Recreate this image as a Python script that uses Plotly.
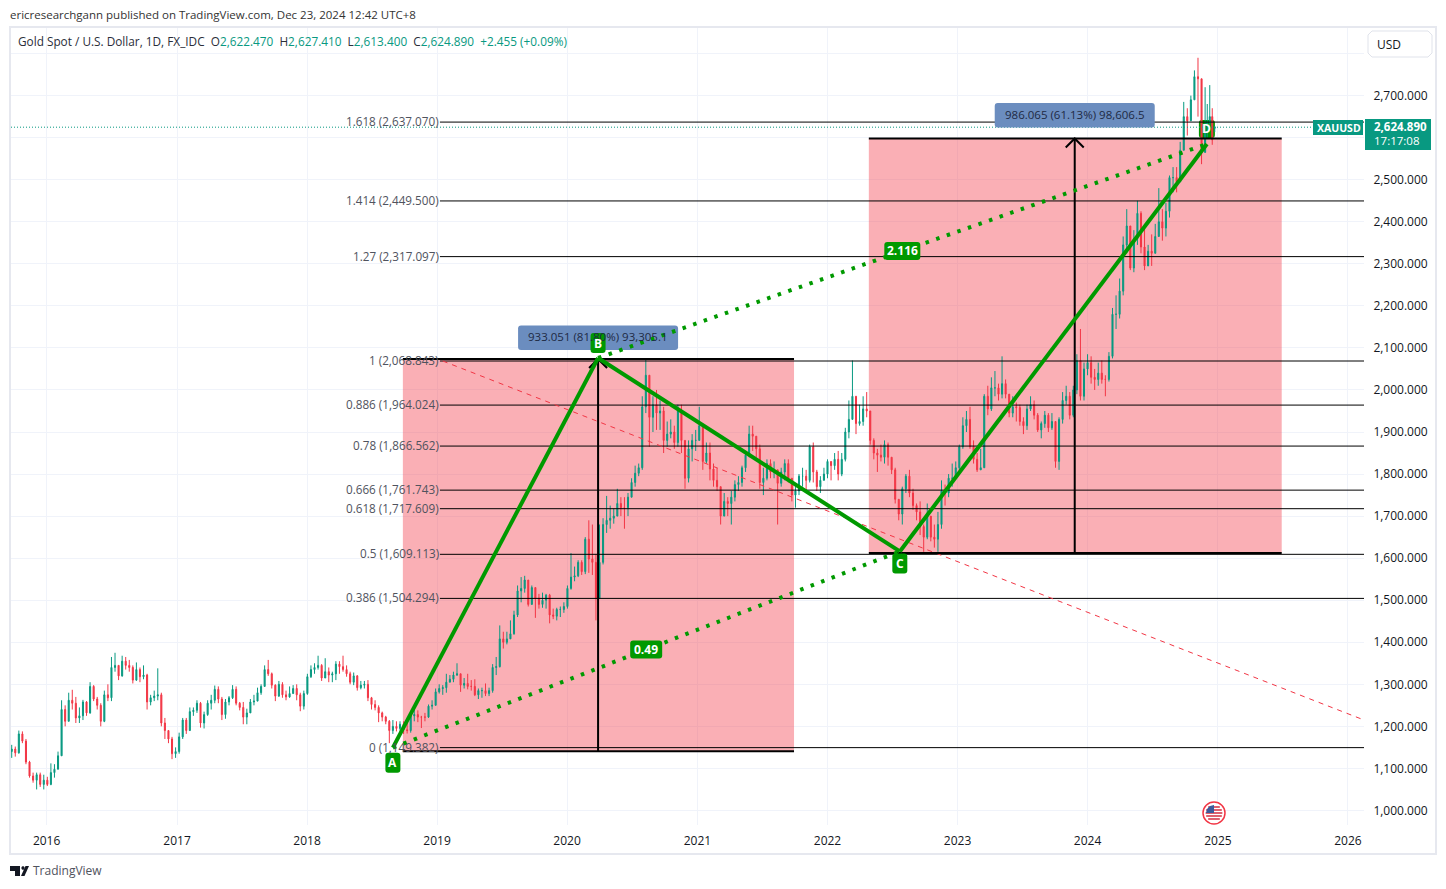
import math
import pandas as pd
import plotly.graph_objects as go

# ---------- data ----------
close_2015 = [1146,1137,1182,1165,1115,1082,1072,1085,1062,1072]
high_2015 = [1156,1152,1190,1188,1170,1118,1090,1090,1090,1085]
low_2015 = [1125,1128,1135,1160,1110,1078,1066,1050,1056,1050]
close_2016 = [1062,1090,1098,1130,1240,1212,1262,1255,1220,1225,1258,1232,1295,1265,1250,1212,1275,1268,1340,1345,1320,1355,1345,1340,1310,1335,1318,1322,1258,1268,1272,1275,1208,1190,1170,1135,1140]
high_2016 = [1080,1112,1110,1140,1262,1250,1280,1287,1270,1245,1263,1260,1305,1298,1270,1255,1285,1300,1365,1375,1345,1368,1365,1358,1345,1352,1340,1345,1325,1275,1285,1338,1280,1220,1190,1175,1150]
low_2016 = [1058,1060,1078,1110,1140,1200,1220,1240,1208,1208,1215,1225,1230,1260,1240,1200,1210,1260,1260,1330,1310,1318,1335,1330,1302,1308,1305,1312,1240,1250,1260,1262,1200,1170,1160,1122,1125]
close_2017 = [1175,1215,1190,1235,1238,1255,1208,1228,1255,1262,1288,1265,1228,1258,1268,1288,1255,1245,1222,1232,1258,1260,1280,1295,1335,1325,1298,1272,1300,1275,1270,1278,1290,1275,1248,1278]
high_2017 = [1185,1220,1220,1245,1245,1262,1258,1235,1262,1275,1297,1295,1270,1265,1272,1298,1295,1258,1258,1242,1265,1275,1292,1300,1345,1358,1328,1300,1308,1305,1285,1295,1298,1300,1280,1285]
low_2017 = [1135,1170,1182,1190,1225,1232,1197,1195,1225,1240,1255,1255,1215,1218,1250,1265,1250,1238,1205,1205,1232,1250,1265,1275,1295,1320,1290,1260,1270,1268,1262,1268,1278,1262,1236,1240]
close_2018 = [1318,1335,1340,1345,1315,1330,1322,1325,1348,1342,1335,1325,1305,1320,1292,1298,1300,1268,1252,1245,1232,1222,1212,1190,1200,1195,1205,1192,1190,1225,1228,1222,1222,1222,1248,1250,1282]
high_2018 = [1325,1345,1350,1368,1348,1362,1340,1330,1355,1355,1368,1345,1330,1328,1322,1308,1308,1310,1270,1262,1250,1235,1225,1215,1215,1212,1212,1212,1210,1235,1240,1238,1225,1232,1252,1262,1290]
low_2018 = [1275,1315,1325,1335,1308,1325,1305,1305,1310,1325,1330,1318,1300,1298,1285,1288,1290,1260,1240,1238,1210,1212,1205,1160,1182,1188,1190,1182,1183,1185,1212,1210,1196,1212,1220,1240,1250]
close_2019 = [1290,1292,1305,1312,1322,1325,1298,1302,1295,1295,1275,1285,1285,1278,1285,1340,1342,1408,1400,1408,1420,1465,1522,1528,1548,1490,1530,1505,1490,1500,1512,1465,1462,1478,1478,1485]
high_2019 = [1300,1298,1325,1322,1330,1350,1325,1315,1325,1310,1312,1290,1292,1302,1292,1348,1365,1440,1425,1425,1452,1475,1535,1555,1558,1525,1535,1520,1515,1518,1515,1515,1480,1482,1485,1495]
low_2019 = [1278,1275,1280,1305,1305,1320,1282,1290,1288,1285,1272,1265,1268,1272,1272,1280,1322,1340,1385,1395,1412,1418,1460,1495,1518,1485,1495,1458,1480,1482,1480,1445,1455,1452,1460,1470]
close_2020 = [1528,1555,1558,1590,1568,1645,1598,1590,1505,1590,1680,1690,1695,1700,1730,1720,1720,1745,1780,1802,1815,1960,2035,1935,1965,1945,1950,1880,1895,1900,1875,1950,1880,1790,1860,1880,1880]
high_2020 = [1535,1612,1580,1595,1595,1650,1690,1680,1610,1680,1695,1748,1725,1718,1765,1745,1745,1755,1790,1820,1825,1985,2075,2015,1985,2000,1975,1960,1925,1930,1915,1965,1965,1880,1880,1895,1905]
low_2020 = [1480,1525,1545,1555,1560,1562,1565,1560,1452,1570,1585,1660,1670,1682,1710,1700,1670,1700,1750,1770,1795,1810,1945,1865,1900,1905,1905,1850,1865,1885,1860,1865,1850,1765,1780,1830,1855]
close_2021 = [1915,1830,1850,1812,1785,1770,1700,1735,1730,1745,1775,1780,1815,1845,1895,1890,1860,1780,1790,1825,1805,1810,1778,1805,1825,1790,1750,1760,1795,1795,1785,1865,1805,1770,1785,1800,1830]
high_2021 = [1960,1920,1875,1875,1825,1815,1770,1755,1745,1760,1785,1795,1820,1855,1915,1915,1885,1870,1815,1835,1835,1830,1810,1815,1835,1835,1790,1775,1800,1815,1810,1870,1875,1810,1795,1815,1835]
low_2021 = [1880,1810,1825,1785,1770,1760,1680,1720,1700,1680,1735,1760,1770,1805,1840,1855,1840,1765,1750,1785,1790,1790,1680,1770,1785,1780,1735,1720,1750,1770,1760,1780,1780,1760,1755,1785,1790]
close_2022 = [1820,1835,1800,1835,1900,1930,1985,1920,1925,1955,1950,1880,1850,1845,1840,1870,1840,1810,1740,1705,1765,1795,1755,1725,1710,1675,1650,1700,1650,1645,1680,1760,1755,1790,1790,1815]
high_2022 = [1830,1850,1855,1850,1910,1975,2070,1965,1965,1985,1995,1935,1885,1860,1870,1880,1875,1840,1815,1735,1770,1800,1810,1765,1730,1735,1680,1730,1680,1680,1710,1785,1775,1800,1825,1830]
low_2022 = [1785,1810,1785,1795,1830,1885,1960,1895,1915,1915,1935,1870,1835,1805,1830,1825,1820,1800,1730,1690,1680,1755,1745,1715,1690,1655,1615,1645,1640,1625,1615,1670,1725,1745,1770,1790]
close_2023 = [1865,1915,1930,1865,1835,1810,1815,1985,1955,2005,2005,1990,2015,1990,1945,1960,1958,1925,1915,1955,1965,1940,1905,1920,1940,1910,1925,1830,1930,1975,1985,1940,2000,2070,1985,2050]
high_2023 = [1870,1935,1950,1960,1880,1850,1860,1990,2010,2030,2045,2015,2080,2025,1985,1985,1970,1965,1935,1965,1985,1975,1945,1925,1950,1945,1945,1925,1935,1995,2010,1995,2010,2085,2145,2065]
low_2023 = [1810,1860,1900,1860,1825,1805,1810,1835,1940,1950,1985,1975,1980,1980,1935,1935,1925,1915,1895,1905,1950,1930,1900,1885,1910,1900,1905,1815,1810,1920,1965,1930,1935,1990,1975,1975]
close_2024 = [2065,2030,2025,2040,2025,2025,2080,2180,2180,2235,2345,2390,2290,2360,2420,2340,2295,2330,2325,2365,2400,2385,2425,2505,2505,2495,2570,2650,2640,2690,2745,2740,2565,2630,2635,2650,2595,2624.89]
high_2024 = [2085,2080,2050,2065,2070,2035,2090,2195,2225,2265,2365,2430,2385,2380,2450,2425,2390,2345,2370,2395,2480,2430,2445,2510,2530,2530,2590,2685,2670,2700,2760,2790,2700,2720,2680,2725,2670,2627.41]
low_2024 = [2035,2015,2000,2010,2015,1985,2020,2075,2145,2170,2225,2325,2285,2280,2345,2325,2285,2305,2295,2350,2390,2355,2365,2410,2470,2470,2495,2570,2605,2640,2690,2650,2537,2610,2600,2620,2583,2613.40]
last_open = 2622.47
first_open = 1140
final_dates = ["2024-11-26", "2024-12-02", "2024-12-09", "2024-12-16", "2024-12-23"]

fib_ratios = ["0", "0.386", "0.5", "0.618", "0.666", "0.78", "0.886", "1", "1.27", "1.414", "1.618"]
fib_prices = [1149.382, 1504.294, 1609.113, 1717.609, 1761.743, 1866.562, 1964.024, 2068.843, 2317.097, 2449.500, 2637.070]

pivot_names = ["A", "B", "C", "D"]
pivot_dates = ["2018-08-30", "2020-03-28", "2022-07-23", "2024-12-01"]
pivot_prices = [1149.4, 2076, 1616, 2585]

range_dates = [["2018-09-27", "2021-09-29"], ["2022-04-27", "2025-06-29"]]
range_low = [1140.6, 1612]
range_high = [2073.65, 2598.07]
range_mid = ["2020-03-28", "2023-11-26"]
range_text = ["933.051 (81.80%) 93,305.1", "986.065 (61.13%) 98,606.5"]

ratio_text = ["0.49", "2.116"]
year_labels = list(range(2016, 2027))
price_ticks = list(range(1000, 2900, 100))
header_values = [("O", "2,622.470"), ("H", "2,627.410"), ("L", "2,613.400"), ("C", "2,624.890")]
header_change = "+2.455 (+0.09%)"
fib_start = "2019-01-09"
trend_start = ("2019-01-17", 2068.843)
trend_end = ("2026-02-15", 1215.1)

# ---------- assemble ----------
close = close_2015 + close_2016 + close_2017 + close_2018 + close_2019 + close_2020 + close_2021 + close_2022 + close_2023 + close_2024
high = high_2015 + high_2016 + high_2017 + high_2018 + high_2019 + high_2020 + high_2021 + high_2022 + high_2023 + high_2024
low = low_2015 + low_2016 + low_2017 + low_2018 + low_2019 + low_2020 + low_2021 + low_2022 + low_2023 + low_2024
assert len(close) == len(high) == len(low), (len(close), len(high), len(low))
opens = [first_open] + close[:-1]
opens[-1] = last_open
high = [max(h, o, c) for h, o, c in zip(high, opens, close)]
low = [min(l, o, c) for l, o, c in zip(low, opens, close)]
dates = list(pd.date_range("2015-09-25", periods=len(close) - len(final_dates), freq="10D")) + [pd.Timestamp(d) for d in final_dates]

GREEN, RED, TEXT, TV = "#009900", "#F23645", "#131722", "#089981"
GRID = "#F0F3FA"
FONT = "Open Sans"
L, R, T, B = 11, 1364, 28, 825
PX = lambda x: (x - L) / (R - L)
PY = lambda y: 1 - (y - T) / (B - T)

def mid(d0, d1):
    a, b = pd.Timestamp(d0), pd.Timestamp(d1)
    return (a + (b - a) / 2).strftime("%Y-%m-%d")

fig = go.Figure(go.Candlestick(
    x=dates, open=opens, high=high, low=low, close=close,
    increasing=dict(line=dict(color=TV, width=1), fillcolor=TV),
    decreasing=dict(line=dict(color=RED, width=1), fillcolor=RED),
    whiskerwidth=0, hoverinfo="skip", showlegend=False))

shapes, notes = [], []

def line(x0, y0, x1, y1, color="#000000", width=1, dash="solid", layer="above"):
    shapes.append(dict(type="line", x0=x0, y0=y0, x1=x1, y1=y1, xref="x", yref="y", layer=layer,
                       line=dict(color=color, width=width, dash=dash)))

def round_box(date, price, x0, x1, y0, y1, fill, r=3, layer="above"):
    """Rounded label anchored on a data point; offsets are screen pixels (y upward)."""
    d = (f"M{x0+r},{y0} L{x1-r},{y0} Q{x1},{y0} {x1},{y0+r} L{x1},{y1-r} Q{x1},{y1} {x1-r},{y1} "
         f"L{x0+r},{y1} Q{x0},{y1} {x0},{y1-r} L{x0},{y0+r} Q{x0},{y0} {x0+r},{y0} Z")
    shapes.append(dict(type="path", xsizemode="pixel", ysizemode="pixel", xref="x", yref="y", xanchor=date, yanchor=price,
                       path=d, fillcolor=fill, line=dict(width=0), layer=layer))

def page_rect(x0, y0, x1, y1, fill, border=None, bw=1):
    shapes.append(dict(type="rect", xref="paper", yref="paper", x0=PX(x0), x1=PX(x1), y0=PY(y1), y1=PY(y0),
                       fillcolor=fill, line=dict(color=border or fill, width=bw if border else 0), layer="above"))

def page_path(points, fill, close_it=True, color=None, width=0):
    d = "M" + " L".join(f"{PX(x):.5f},{PY(y):.5f}" for x, y in points) + (" Z" if close_it else "")
    shapes.append(dict(type="path", xref="paper", yref="paper", path=d, fillcolor=fill, layer="above",
                       line=dict(color=color or fill, width=width)))

def page_text(x, y, text, size=12, color=TEXT, anchor="left", **kw):
    notes.append(dict(xref="paper", yref="paper", x=PX(x), y=PY(y), text=text, showarrow=False,
                      xanchor=anchor, yanchor="middle", font=dict(family=FONT, size=size, color=color), **kw))

# pink long-position ranges
for (d0, d1), lo, hi in zip(range_dates, range_low, range_high):
    shapes.append(dict(type="rect", xref="x", yref="y", x0=d0, x1=d1, y0=lo, y1=hi, layer="between",
                       fillcolor="rgba(242,54,69,0.4)", line=dict(width=0)))

# D label sits behind the candles
round_box(pivot_dates[3], pivot_prices[3], -8, 8, 6, 24, GREEN, layer="between")

# fib levels
for r, p in zip(fib_ratios, fib_prices):
    line(fib_start, p, "2026-02-15", p, width=1)
    notes.append(dict(x=fib_start, y=p, xref="x", yref="y", text=f"{r} ({p:,.3f})", showarrow=False,
                      xanchor="right", yanchor="middle", xshift=1, yshift=1,
                      font=dict(family=FONT, size=11.7, color="#50535E")))

# fib trend
line(trend_start[0], trend_start[1], trend_end[0], trend_end[1], color=RED, width=1, dash="5px,5px")
# last price
shapes.append(dict(type="line", xref="paper", yref="y", x0=0, x1=1, y0=close[-1], y1=close[-1], layer="above",
                   line=dict(color=TV, width=1, dash="1px,2px")))

# measure boxes, arrows
box_offset = [9, 11]
for (d0, d1), lo, hi, m, txt, off in zip(range_dates, range_low, range_high, range_mid, range_text, box_offset):
    line(d0, hi, d1, hi, width=2)
    line(d0, lo, d1, lo, width=2)
    line(m, lo, m, hi, width=2)
    shapes.append(dict(type="path", xsizemode="pixel", ysizemode="pixel", xref="x", yref="y", xanchor=m, yanchor=hi,
                       path="M-9,-9 L0,0 L9,-9", layer="above", line=dict(color="#000000", width=2)))
    round_box(m, hi, -80, 80, off, off + 24.5, "#6B8DBF")
    notes.append(dict(x=m, y=hi, xref="x", yref="y", text=txt, showarrow=False,
                      xanchor="center", yanchor="middle", yshift=off + 13,
                      font=dict(family=FONT, size=11.5, color="#1E2A44")))

# ABCD pattern
dots = "3.5px,7.7px"
for a, b in ((0, 2), (1, 3)):
    line(pivot_dates[a], pivot_prices[a], pivot_dates[b], pivot_prices[b], color=GREEN, width=4, dash=dots)
for a, b in ((0, 1), (1, 2), (2, 3)):
    line(pivot_dates[a], pivot_prices[a], pivot_dates[b], pivot_prices[b], color=GREEN, width=4)

shifts = [-15, 15, -12, 15]
for i, (n, d, p, s) in enumerate(zip(pivot_names, pivot_dates, pivot_prices, shifts)):
    if i < 3:
        round_box(d, p, -7.5, 7.5, s - 10, s + 10, GREEN)
    notes.append(dict(x=d, y=p, xref="x", yref="y", text=f"<b>{n}</b>", showarrow=False, yshift=s,
                      xanchor="center", yanchor="middle", font=dict(family=FONT, size=12, color="#FFFFFF")))

half_w = [16, 18]
for (a, b), t, w in zip(((0, 2), (1, 3)), ratio_text, half_w):
    md, mp = mid(pivot_dates[a], pivot_dates[b]), (pivot_prices[a] + pivot_prices[b]) / 2
    round_box(md, mp, -w, w, -9, 9, GREEN)
    notes.append(dict(x=md, y=mp, xref="x", yref="y", text=f"<b>{t}</b>", showarrow=False,
                      xanchor="center", yanchor="middle", font=dict(family=FONT, size=12, color="#FFFFFF")))

# frame
FR = "#E6E8EF"
page_path([(10, 27), (1436, 27), (1436, 854), (10, 854)], "rgba(0,0,0,0)", True, FR, 2)

# header
page_text(8, 15, "ericresearchgann published on TradingView.com, Dec 23, 2024 12:42 UTC+8", size=11.5, color="#333333")
values = "  ".join(f'{k}<span style="color:{TV}">{v}</span>' for k, v in header_values)
page_text(16, 41, f'Gold Spot / U.S. Dollar, 1D, FX_IDC  {values}  <span style="color:{TV}">{header_change}</span>', size=11.8, color="#2A2E39")

# USD button
page_path([(1372, 31), (1428, 31), (1432, 35), (1432, 53), (1428, 57), (1372, 57), (1368, 53), (1368, 35)], "#FFFFFF", True, "#E0E3EB", 1)
page_text(1375, 44, "USD", size=12)

# price tags
page_rect(1313, 120, 1363, 135, TV)
page_text(1339, 127.5, "<b>XAUUSD</b>", size=10.5, color="#FFFFFF", anchor="center")
page_rect(1365, 119, 1431, 150, TV)
page_text(1400, 126.5, "<b>2,624.890</b>", size=11.5, color="#FFFFFF", anchor="center")
page_text(1397, 140.5, "17:17:08", size=11.5, color="#FFFFFF", anchor="center")

# TradingView wordmark
page_path([(10, 866), (20, 866), (20, 876), (15, 876), (15, 871), (10, 871)], "#131722")
page_path([(23, 866), (24.5, 867), (24.5, 869), (23, 870), (21.5, 869), (21.5, 867)], "#131722")
page_path([(21, 876), (25.5, 866), (29, 866), (24.5, 876)], "#131722")
page_text(31, 871, "TradingView", size=12, color="#50535E")

# US-events flag
cx, cy = 1214, 813
shapes.append(dict(type="circle", xref="paper", yref="paper", x0=PX(cx - 11), x1=PX(cx + 11), y0=PY(cy + 11), y1=PY(cy - 11),
                   fillcolor="#FFFFFF", line=dict(color=RED, width=1.5), layer="above"))
for off in (-6, -3, 0, 3, 6):
    half = math.sqrt(70 - off * off)
    page_path([(cx - half, cy + off), (cx + half, cy + off)], "rgba(0,0,0,0)", False, "#D6384A", 1.6)
page_path([(cx - 8, cy), (cx - 7, cy - 4), (cx - 4, cy - 7), (cx, cy - 8), (cx, cy)], "#3C5A9A")

fig.update_layout(
    width=1446, height=889, autosize=False,
    margin=dict(l=L, r=1446 - R, t=T, b=889 - B, pad=0),
    paper_bgcolor="#FFFFFF", plot_bgcolor="#FFFFFF", showlegend=False,
    font=dict(family=FONT, size=12, color=TEXT),
    shapes=shapes, annotations=notes,
    xaxis=dict(type="date", range=["2015-09-23", "2026-02-15"], rangeslider=dict(visible=False),
               tickvals=[f"{y}-01-01" for y in year_labels], ticktext=[str(y) for y in year_labels],
               showgrid=True, gridcolor=GRID, gridwidth=1, zeroline=False, showline=False,
               ticks="outside", ticklen=5, tickcolor="rgba(0,0,0,0)", tickangle=0,
               tickfont=dict(family=FONT, size=12, color=TEXT)),
    yaxis=dict(side="right", range=[965.4, 2860.8], tickvals=price_ticks,
               ticktext=[f"{p:,.3f}" if p < 2800 else "" for p in price_ticks],
               showgrid=True, gridcolor=GRID, gridwidth=1, zeroline=False, showline=False,
               ticks="outside", ticklen=6, tickcolor="rgba(0,0,0,0)",
               tickfont=dict(family=FONT, size=12, color=TEXT)),
)

fig.write_html("out.html", config={"displayModeBar": False},
               post_script="document.body.style.margin='0';document.body.style.overflow='hidden';")
